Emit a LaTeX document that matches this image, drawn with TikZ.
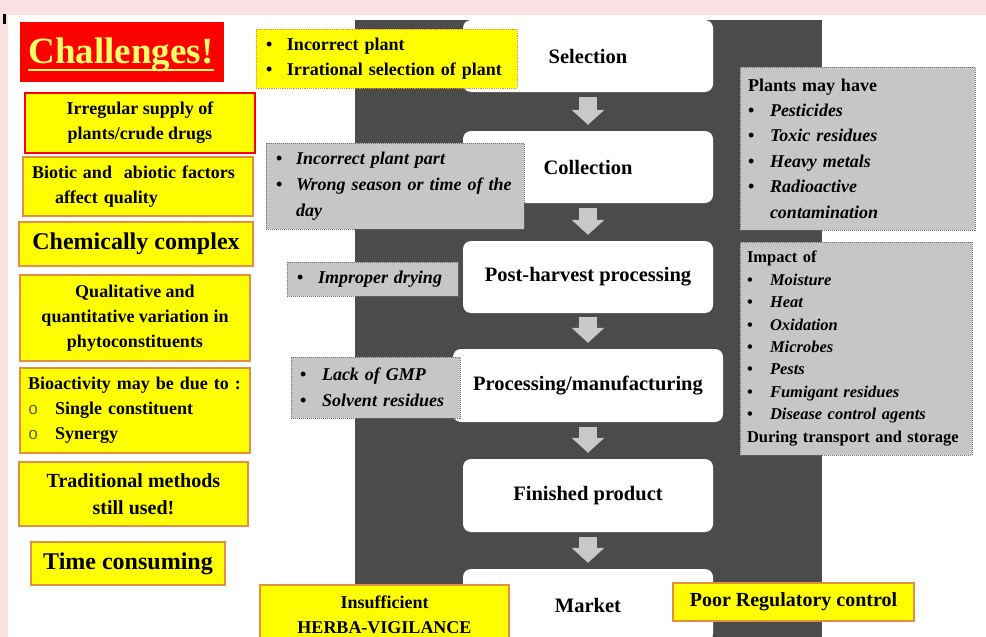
\documentclass[tikz,border=0pt]{standalone}
\usepackage{fontspec}
\setmainfont{Liberation Serif}
\newfontfamily\monof{Liberation Mono}
\usetikzlibrary{arrows.meta}

\definecolor{pinkbg}{HTML}{F9E1E1}
\definecolor{darkcol}{HTML}{4B4B4B}
\definecolor{ylw}{HTML}{FFFF00}
\definecolor{ybord}{HTML}{E09040}
\definecolor{grayfill}{HTML}{C6C6C6}
\definecolor{graybord}{HTML}{6E6E6E}
\definecolor{arrgray}{HTML}{C8C8C8}
\definecolor{chred}{HTML}{FF0000}
\definecolor{chtext}{HTML}{FFFF66}
\definecolor{ringgray}{HTML}{606040}

% bullet and open-circle markers for the list boxes
\newcommand\blt[1][21pt]{\makebox[#1][l]{\upshape\textbullet}}
\newcommand\obl{\makebox[27pt][l]{\mdseries\monof\fontsize{17}{17}\selectfont\textcolor{ringgray}{o}}}

\begin{document}
\begin{tikzpicture}[x=1pt,y=-1pt,
  every node/.style={inner sep=0pt},
  ybox/.style={draw=ybord, line width=1.2pt, fill=ylw,
    font=\bfseries\fontsize{18}{25}\selectfont, align=center},
  gbox/.style={draw=graybord, densely dotted, line width=1pt, fill=grayfill,
    font=\bfseries\itshape\fontsize{18}{26}\selectfont, align=left},
  stepbox/.style={fill=white, rounded corners=8pt,
    minimum width=250pt, minimum height=72pt,
    font=\bfseries\fontsize{20.5}{24}\selectfont},
  flow/.style={arrgray, line width=18pt, -{Triangle[width=32pt,length=15pt]}}
]
% page background and white slide area
\useasboundingbox (0,0) rectangle (986,637);
\fill[pinkbg] (0,0) rectangle (986,637);
\fill[white] (8,15) rectangle (986,637);
\fill[black] (3,14) rectangle (6,24);

% dark band behind the process chain
\fill[darkcol] (355,20) rectangle (822,645);

% process steps
\node[stepbox] (sel) at (588,56) {Selection};
\node[stepbox] (col) at (588,167) {Collection};
\node[stepbox] (post) at (588,277) {Post-harvest processing};
\node[stepbox, minimum width=270pt, minimum height=73pt] (proc) at (588,385.5) {Processing/manufacturing};
\node[stepbox, minimum height=73pt] (fin) at (588,495.5) {Finished product};
\node[stepbox, minimum height=73pt] (mkt) at (588,605.5) {Market};

\draw[flow] ([yshift=-5pt]sel.south) -- ([yshift=6pt]col.north);
\draw[flow] ([yshift=-5pt]col.south) -- ([yshift=6pt]post.north);
\draw[flow] ([yshift=-4pt]post.south) -- ([yshift=6pt]proc.north);
\draw[flow] ([yshift=-5pt]proc.south) -- ([yshift=6pt]fin.north);
\draw[flow] ([yshift=-5pt]fin.south) -- ([yshift=6pt]mkt.north);

% left column of challenges
\node[fill=chred, minimum width=204pt, minimum height=60pt] (chbox) at (122,52) {};
\node[anchor=base, text=chtext, font=\bfseries\fontsize{37}{40}\selectfont] (chtxt) at (121,63) {Challenges!};
\draw[chtext, line width=2pt] ([yshift=-7pt]chtxt.base west) -- ([yshift=-7pt]chtxt.base east);

\node[ybox, draw=chred, line width=2pt, minimum width=230pt, minimum height=60pt] (irr) at (140,123)
  {Irregular supply of\\plants/crude drugs};
\node[ybox, align=left, text width=212pt, inner xsep=9pt, minimum height=59pt] (bio) at (138,186.5)
  {Biotic and\ \ abiotic factors\\\hspace*{23pt}affect quality};
\node[ybox, font=\bfseries\fontsize{24}{28}\selectfont, minimum width=234pt, minimum height=44pt] (chem) at (136,244)
  {Chemically complex};
\node[ybox, minimum width=230pt, minimum height=86pt] (qual) at (135,318)
  {Qualitative and\\quantitative variation in\\phytoconstituents};
\node[ybox, align=left, text width=214pt, inner xsep=8pt, minimum height=85pt] (bioact) at (135,410.5)
  {Bioactivity may be due to :\\\obl Single constituent\\\obl Synergy};
\node[ybox, font=\bfseries\fontsize{20}{27}\selectfont, minimum width=229pt, minimum height=64pt] (trad) at (133.5,494)
  {Traditional methods\\still used!};
\node[ybox, font=\bfseries\fontsize{24}{28}\selectfont, minimum width=194pt, minimum height=43pt] (time) at (128,563.5)
  {Time consuming};

% problems attached to the process steps
\node[ybox, densely dotted, line width=1pt, align=left, text width=241pt, inner xsep=10pt, minimum height=59pt] (inc) at (386.5,58.5)
  {\blt Incorrect plant\\\blt Irrational selection of plant};
\node[gbox, text width=238pt, inner xsep=10pt, minimum height=86pt] (part) at (395,186)
  {\blt[20pt]Incorrect plant part\\\blt[20pt]Wrong season or time of the\\\hspace*{20pt}day};
\node[gbox, text width=151pt, inner xsep=10pt, minimum height=34pt] (dry) at (372.5,279)
  {\blt Improper drying};
\node[gbox, text width=151pt, inner xsep=9pt, minimum height=61pt] (gmp) at (375.5,387.5)
  {\blt[22pt]Lack of GMP\\\blt[22pt]Solvent residues};
\node[ybox, minimum width=249pt, minimum height=60pt] (herba) at (384.5,615)
  {Insufficient\\HERBA-VIGILANCE};
\node[ybox, font=\bfseries\fontsize{20}{24}\selectfont, minimum width=241pt, minimum height=38pt] (reg) at (793.5,602)
  {Poor Regulatory control};

% contamination boxes on the right
\node[gbox, font=\bfseries\fontsize{18}{25.4}\selectfont, text width=219pt, inner xsep=8pt, minimum height=163pt] (cont) at (857.5,148.5)
  {Plants may have\\\blt[22pt]\textit{Pesticides}\\\blt[22pt]\textit{Toxic residues}\\\blt[22pt]\textit{Heavy metals}\\\blt[22pt]\textit{Radioactive}\\\hspace*{22pt}\textit{contamination}};
\node[gbox, font=\bfseries\fontsize{16.5}{22.4}\selectfont, text width=218pt, inner xsep=7pt, minimum height=213pt] (imp) at (856,348.5)
  {Impact of\\\blt[23pt]\textit{Moisture}\\\blt[23pt]\textit{Heat}\\\blt[23pt]\textit{Oxidation}\\\blt[23pt]\textit{Microbes}\\\blt[23pt]\textit{Pests}\\\blt[23pt]\textit{Fumigant residues}\\\blt[23pt]\textit{Disease control agents}\\During transport and storage};
\end{tikzpicture}
\end{document}
